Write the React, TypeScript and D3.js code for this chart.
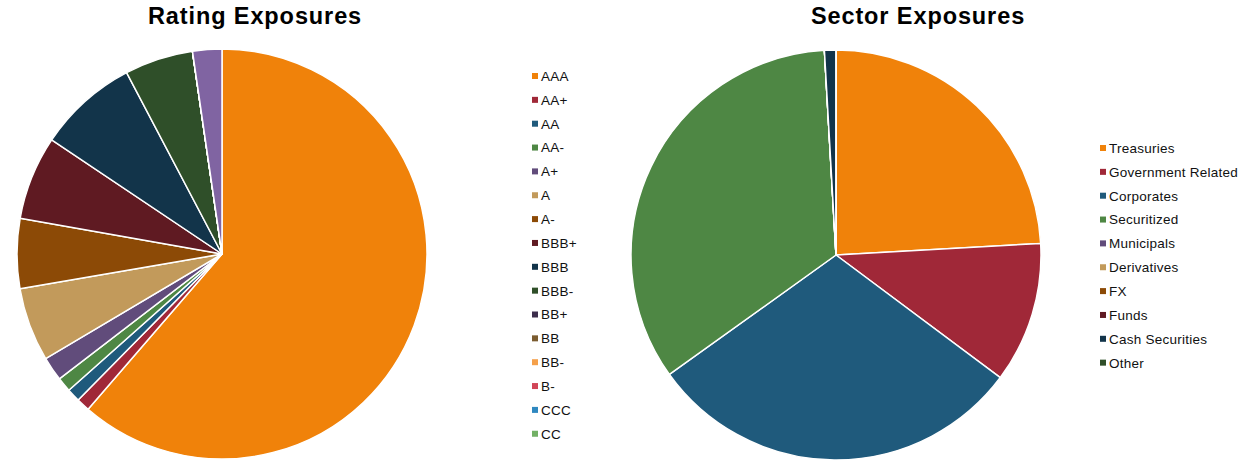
import { useEffect, useRef } from 'react';
import * as d3 from 'd3';

// rating pie (last slice is an unlabelled one drawn in light purple)
const ratingLabels = ['AAA', 'AA+', 'AA', 'AA-', 'A+', 'A', 'A-', 'BBB+', 'BBB', 'BBB-', 'BB+', 'BB', 'BB-', 'B-', 'CCC', 'CC', 'NR'];
const ratingValues = [61.3, 1.05, 1.05, 1.15, 1.9, 5.8, 5.5, 6.6, 7.9, 5.4, 0, 0, 0, 0, 0, 0, 2.3];
const ratingLegend = ratingLabels.slice(0, 16);

const sectorLabels = ['Treasuries', 'Government Related', 'Corporates', 'Securitized', 'Municipals', 'Derivatives', 'FX', 'Funds', 'Cash Securities', 'Other'];
const sectorValues = [24.1, 11.1, 29.9, 34.0, 0, 0, 0, 0, 0.9, 0];

const palette = [
  '#F0820A', '#A02838', '#1F5A7C', '#4E8744', '#614C7B', '#C29A5B',
  '#8C4A06', '#5F1A22', '#12344A', '#2F4F29', '#3C2D4C', '#7B5C30',
  '#F5A04A', '#D14558', '#2F88C0', '#72B065', '#8064A2',
];

const W = 1246;
const H = 460;
const FONT = 'Liberation Sans, Arial, sans-serif';

function App() {
  const svgRef = useRef(null);

  useEffect(() => {
    const svg = d3.select(svgRef.current);
    svg.selectAll('*').remove();

    const pie = d3.pie<number>().sort(null).value(d => d);
    const arc = d3.arc<d3.PieArcDatum<number>>().innerRadius(0).outerRadius(205);

    const drawPie = (cx: number, cy: number, values: number[]) => {
      const g = svg.append('g').attr('transform', `translate(${cx},${cy})`);
      g.selectAll('path')
        .data(pie(values))
        .join('path')
        .attr('d', arc)
        .attr('fill', (d, i) => palette[i])
        .attr('stroke', '#fff')
        .attr('stroke-width', 1.5)
        .attr('stroke-linejoin', 'round');
    };

    const drawLegend = (x: number, y0: number, labels: string[]) => {
      const y = d3.scalePoint<string>().domain(labels).range([y0, y0 + 23.85 * (labels.length - 1)]);
      const g = svg.append('g');
      const item = g.selectAll('g').data(labels).join('g')
        .attr('transform', d => `translate(${x},${y(d)})`);
      item.append('rect')
        .attr('x', 0).attr('y', -3).attr('width', 6).attr('height', 6)
        .attr('fill', (d, i) => palette[i]);
      item.append('text')
        .attr('x', 9).attr('y', 0).attr('dy', '0.36em')
        .attr('font-family', FONT)
        .attr('font-size', 13.5)
        .attr('letter-spacing', 0.25)
        .attr('fill', '#111')
        .text(d => d);
    };

    const title = (x: number, text: string) => {
      svg.append('text')
        .attr('x', x).attr('y', 23.5)
        .attr('text-anchor', 'middle')
        .attr('font-family', FONT)
        .attr('font-weight', 'bold')
        .attr('font-size', 23.5)
        .attr('letter-spacing', 0.9)
        .attr('fill', '#000')
        .text(text);
    };

    title(255, 'Rating Exposures');
    title(918, 'Sector Exposures');
    drawPie(222, 254, ratingValues);
    drawPie(836, 255, sectorValues);
    drawLegend(532, 76, ratingLegend);
    drawLegend(1100, 148, sectorLabels);
  }, []);

  return (
    <svg ref={svgRef} width={W} height={H} style={{ position: 'absolute', left: 0, top: 0, background: '#fff' }} />
  );
}

export default App;
